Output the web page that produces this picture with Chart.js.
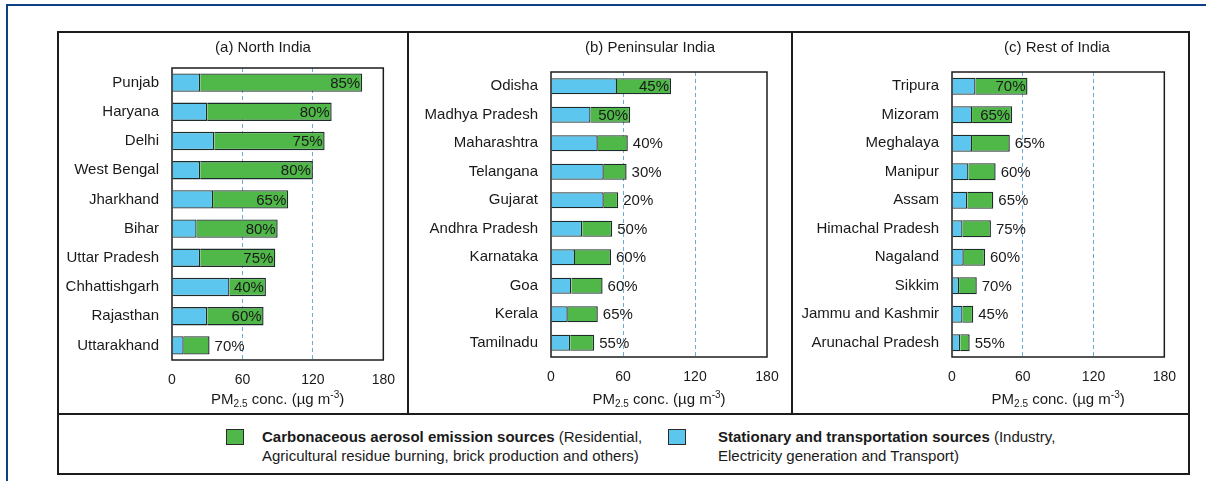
<!DOCTYPE html>
<html><head><meta charset="utf-8">
<script src="https://cdn.jsdelivr.net/npm/chart.js@4.4.1/dist/chart.umd.min.js"></script>
<style>
html,body{margin:0;padding:0;background:#fff;width:1206px;height:481px;overflow:hidden;font-family:"Liberation Sans",Arial,sans-serif;color:#1a1a1a;}
.abs{position:absolute;}
.lg{position:absolute;font-size:15px;line-height:19px;white-space:nowrap;}
.sw{position:absolute;width:16px;height:14px;border:1px solid #2a2a2a;}
</style></head><body>
<div class="abs" style="left:6px;top:4px;width:1200px;height:2px;background:#0c4185"></div>
<div class="abs" style="left:6px;top:4px;width:2px;height:477px;background:#0c4185"></div>
<div class="abs" style="left:57px;top:31px;width:1129px;height:440px;border:2px solid #1c1c1c"></div>
<div class="abs" style="left:407px;top:31px;width:2px;height:384px;background:#1c1c1c"></div>
<div class="abs" style="left:791px;top:31px;width:2px;height:384px;background:#1c1c1c"></div>
<div class="abs" style="left:57px;top:413px;width:1133px;height:2px;background:#1c1c1c"></div>

<div class="abs" style="left:59px;top:33px;"><canvas id="ca" width="348" height="380" style="width:348px;height:380px"></canvas></div>
<div class="abs" style="left:409px;top:33px;"><canvas id="cb" width="382" height="380" style="width:382px;height:380px"></canvas></div>
<div class="abs" style="left:793px;top:33px;"><canvas id="cc" width="395" height="380" style="width:395px;height:380px"></canvas></div>

<div class="sw" style="left:226px;top:429px;background:#4fb848"></div>
<div class="lg" style="left:262px;top:427px;"><b>Carbonaceous aerosol emission sources</b> (Residential,<br>Agricultural residue burning, brick production and others)</div>
<div class="sw" style="left:668px;top:429px;background:#5dc6ee"></div>
<div class="lg" style="left:718px;top:427px;"><b>Stationary and transportation sources</b> (Industry,<br>Electricity generation and Transport)</div>

<script>
// ---------- DATA ----------
const xTickValues = [0, 60, 120, 180];

const northStates = ['Punjab','Haryana','Delhi','West Bengal','Jharkhand','Bihar','Uttar Pradesh','Chhattishgarh','Rajasthan','Uttarakhand'];
const northStationary = [24, 30, 36, 24, 35, 21, 24, 49, 30, 10];
const northCarbonaceous = [138, 106, 94, 96, 64, 69, 64, 31, 48, 22];
const northShare = [85, 80, 75, 80, 65, 80, 75, 40, 60, 70];
const northShareInside = [true, true, true, true, true, true, true, true, true, false];

const peninsularStates = ['Odisha','Madhya Pradesh','Maharashtra','Telangana','Gujarat','Andhra Pradesh','Karnataka','Goa','Kerala','Tamilnadu'];
const peninsularStationary = [55, 33, 39, 44, 44, 26, 20, 17, 14, 16];
const peninsularCarbonaceous = [45, 33, 25, 19, 12, 25, 30, 26, 25, 20];
const peninsularShare = [45, 50, 40, 30, 20, 50, 60, 60, 65, 55];
const peninsularShareInside = [true, true, false, false, false, false, false, false, false, false];

const restStates = ['Tripura','Mizoram','Meghalaya','Manipur','Assam','Himachal Pradesh','Nagaland','Sikkim','Jammu and Kashmir','Arunachal Pradesh'];
const restStationary = [20, 17, 17, 14, 13, 9, 10, 6, 9, 7];
const restCarbonaceous = [44, 34, 32, 23, 22, 24, 18, 15, 9, 8];
const restShare = [70, 65, 65, 60, 65, 75, 60, 70, 45, 55];
const restShareInside = [true, true, false, false, false, false, false, false, false, false];

const panelTitles = ['(a) North India', '(b) Peninsular India', '(c) Rest of India'];
const seriesNames = ['Stationary and transportation sources', 'Carbonaceous aerosol emission sources'];

// ---------- STYLE ----------
const BLUE = '#5dc6ee', GREEN = '#4fb848', EDGE = '#1e2b2b', GRIDC = '#6aaed6', TXT = '#1a1a1a';
const FONT = '"Liberation Sans", Arial, sans-serif';

const framePlugin = {
  id: 'frame',
  afterDatasetsDraw(chart, args, o) {
    const {ctx, chartArea: a} = chart;
    ctx.save();
    ctx.strokeStyle = '#1c1c1c'; ctx.lineWidth = 1.5;
    ctx.strokeRect(a.left, a.top, a.right - a.left, a.bottom - a.top);
    // value labels
    const meta = chart.getDatasetMeta(1);
    ctx.font = '15px ' + FONT; ctx.fillStyle = TXT; ctx.textBaseline = 'middle';
    meta.data.forEach((el, i) => {
      const txt = o.share[i] + '%';
      if (o.inside[i]) { ctx.textAlign = 'right'; ctx.fillText(txt, el.x - 2, el.y + 1); }
      else { ctx.textAlign = 'left'; ctx.fillText(txt, el.x + 5, el.y + 1); }
    });
    // panel title
    ctx.textAlign = 'center';
    ctx.fillText(o.title, o.tx, 15);
    // axis title with sub/superscript
    const parts = [['PM',15,0],['2.5',10,4],[' conc. (\u00b5g m',15,0],['-3',10,-5],[')',15,0]];
    let w = 0;
    parts.forEach(p => { ctx.font = p[1] + 'px ' + FONT; w += ctx.measureText(p[0]).width; });
    let x = (a.left + a.right) / 2 - w / 2;
    ctx.textAlign = 'left';
    parts.forEach(p => { ctx.font = p[1] + 'px ' + FONT; ctx.fillText(p[0], x, 367 + p[2]); x += ctx.measureText(p[0]).width; });
    ctx.restore();
  }
};

function makeChart(id, cats, stat, carb, share, inside, lay) {
  return new Chart(document.getElementById(id), {
    type: 'bar',
    data: { labels: cats, datasets: [
      { label: seriesNames[0], data: stat, backgroundColor: BLUE, borderColor: EDGE, borderWidth: 1.4 },
      { label: seriesNames[1], data: carb, backgroundColor: GREEN, borderColor: EDGE, borderWidth: 1.4 }
    ]},
    options: {
      indexAxis: 'y', responsive: false, animation: false, devicePixelRatio: 1,
      layout: { padding: { top: lay.top, right: lay.right, left: 0, bottom: 0 } },
      datasets: { bar: { categoryPercentage: 1, barPercentage: lay.bar } },
      plugins: { legend: { display: false }, title: { display: false }, tooltip: { enabled: false },
        frame: { share: share, inside: inside, title: lay.title, tx: lay.tx } },
      scales: {
        x: { stacked: true, min: 0, max: 180,
          afterBuildTicks: s => { s.ticks = xTickValues.map(v => ({ value: v })); },
          ticks: { font: { size: 14, family: FONT }, color: TXT, padding: 12 },
          grid: { drawTicks: false, lineWidth: 1,
            color: c => (c.tick && c.tick.value > 0 && c.tick.value < 180) ? GRIDC : 'rgba(0,0,0,0)' },
          border: { display: false, dash: [4, 3] },
          afterFit: s => { s.height = lay.bottom; } },
        y: { stacked: true,
          ticks: { font: { size: 15, family: FONT }, color: TXT, padding: 13, autoSkip: false },
          grid: { display: false, drawTicks: false }, border: { display: false },
          afterFit: s => { s.width = lay.yw; } }
      }
    },
    plugins: [framePlugin]
  });
}

makeChart('ca', northStates, northStationary, northCarbonaceous, northShare, northShareInside,
  { top: 35, right: 21, bottom: 53, yw: 113, bar: 0.63, title: panelTitles[0], tx: 204 });
makeChart('cb', peninsularStates, peninsularStationary, peninsularCarbonaceous, peninsularShare, peninsularShareInside,
  { top: 39, right: 24, bottom: 56, yw: 142, bar: 0.57, title: panelTitles[1], tx: 241 });
makeChart('cc', restStates, restStationary, restCarbonaceous, restShare, restShareInside,
  { top: 39, right: 20, bottom: 56, yw: 159, bar: 0.6, title: panelTitles[2], tx: 264 });
</script>
</body></html>
